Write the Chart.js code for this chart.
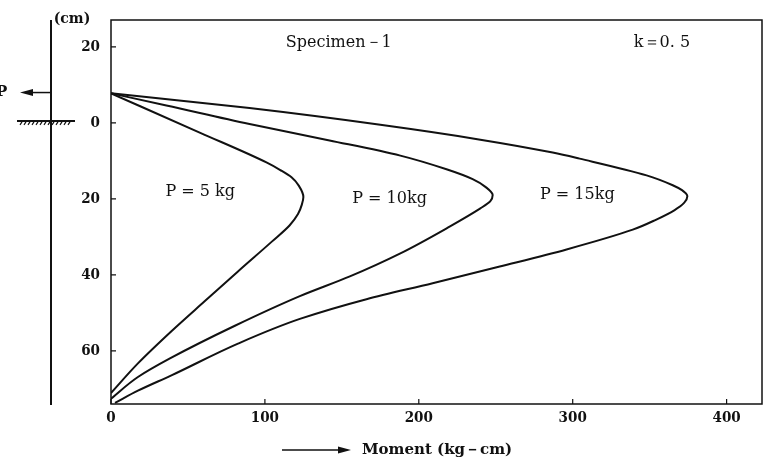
<!DOCTYPE html>
<html>
<head>
<meta charset="utf-8">
<script src="https://cdn.jsdelivr.net/npm/chart.js@4"></script>
<style>
  body { margin: 0; background: #fff; }
  #wrap { width: 780px; height: 462px; }
</style>
</head>
<body>
<div id="wrap"><canvas id="myChart" width="780" height="462"></canvas></div>
<script>
// Moment (kg-cm) vs depth (cm, negative = above ground)
const depthP5   = [-7.8, 2.6, 10.4, 12.4, 14.3, 16.5, 19.5, 21.5, 24, 27, 31.25, 39.1, 46.9, 54.7, 63.3, 71.1];
const momentP5  = [0, 58, 101, 110, 117.3, 122, 125, 124, 121.5, 116, 104.5, 82.5, 61, 39.6, 17.5, 0];

const depthP10  = [-7.8, -4.6, 0.3, 4.6, 8.6, 12.2, 14.8, 16.9, 19, 20.6, 22.5, 27.3, 34.4, 40.4, 45.6, 53.4, 62, 66.9, 72.6];
const momentP10 = [0, 36, 90, 142, 188, 218, 235, 243.5, 248, 246.5, 240, 220, 187.7, 155.2, 122.7, 80.5, 38.3, 17.5, 0];

const depthP15  = [-7.8, -3.9, 0.5, 4.4, 7.8, 9.4, 13.8, 16.4, 17.7, 19.3, 21, 23, 25.5, 28.1, 33.3, 37.8, 42.2, 46.4, 51.6, 58.1, 66.4, 70.5, 73.7];
const momentP15 = [0, 90, 175, 240, 287, 304.5, 348, 365, 371, 374.5, 372.5, 366, 354, 339, 296, 252.6, 209, 166, 122.7, 82.5, 39.6, 17.5, 2.6];

const xTicks = [0, 100, 200, 300, 400];
const yTicks = [-20, 0, 20, 40, 60];
const loadLabels = ['P = 5 kg', 'P = 10kg', 'P = 15kg'];

const serif = "'DejaVu Serif', 'Liberation Serif', serif";
const tickFont = "'DejaVu Serif Condensed', 'DejaVu Serif', serif";

function toPoints(xs, ys) {
    return xs.map((x, i) => ({ x: x, y: ys[i] }));
}

function curve(xs, ys) {
    return {
        data: toPoints(xs, ys),
        showLine: true,
        borderColor: '#111',
        borderWidth: 2,
        pointRadius: 0,
        cubicInterpolationMode: 'monotone',
        fill: false
    };
}

// frame, inward ticks, pile sketch and text labels
const decorations = {
    id: 'decorations',
    afterDraw(chart) {
        const ctx = chart.ctx;
        const area = chart.chartArea;
        const xs = chart.scales.x;
        const ys = chart.scales.y;
        ctx.save();
        ctx.strokeStyle = '#111';
        ctx.fillStyle = '#111';

        // frame
        ctx.lineWidth = 1.5;
        ctx.strokeRect(area.left, area.top, area.right - area.left, area.bottom - area.top);

        // tick marks pointing inside
        ctx.lineWidth = 1.2;
        ctx.beginPath();
        xs.ticks.forEach(t => {
            const px = xs.getPixelForValue(t.value);
            ctx.moveTo(px, area.bottom);
            ctx.lineTo(px, area.bottom - 5);
        });
        ys.ticks.forEach(t => {
            const py = ys.getPixelForValue(t.value);
            ctx.moveTo(area.left, py);
            ctx.lineTo(area.left + 5, py);
        });
        ctx.stroke();

        // pile on the left
        const pileX = 51;
        ctx.lineWidth = 2;
        ctx.beginPath();
        ctx.moveTo(pileX, area.top);
        ctx.lineTo(pileX, area.bottom + 1);
        ctx.stroke();

        // load arrow P
        const loadY = ys.getPixelForValue(-8);
        ctx.lineWidth = 1.5;
        ctx.beginPath();
        ctx.moveTo(pileX, loadY);
        ctx.lineTo(30, loadY);
        ctx.stroke();
        ctx.beginPath();
        ctx.moveTo(20, loadY);
        ctx.lineTo(33, loadY - 3.5);
        ctx.lineTo(33, loadY + 3.5);
        ctx.closePath();
        ctx.fill();
        ctx.font = 'bold 15px ' + serif;
        ctx.textAlign = 'left';
        ctx.textBaseline = 'middle';
        ctx.fillText('P', -4, loadY);

        // ground line with hatching
        const groundY = ys.getPixelForValue(0);
        ctx.lineWidth = 2;
        ctx.beginPath();
        ctx.moveTo(17, groundY - 2);
        ctx.lineTo(75, groundY - 2);
        ctx.stroke();
        ctx.lineWidth = 1.2;
        ctx.beginPath();
        for (let hx = 20; hx < 72; hx += 4) {
            ctx.moveTo(hx + 2, groundY - 1);
            ctx.lineTo(hx, groundY + 2);
        }
        ctx.stroke();

        // unit
        ctx.font = 'bold 14px ' + serif;
        ctx.textAlign = 'center';
        ctx.fillText('(cm)', 72, 19);

        // texts inside the plot
        ctx.font = '16px ' + serif;
        ctx.fillText('Specimen－1', xs.getPixelForValue(148), ys.getPixelForValue(-21.1));
        ctx.fillText('k＝0. 5', xs.getPixelForValue(358), ys.getPixelForValue(-21.1));
        ctx.fillText(loadLabels[0], xs.getPixelForValue(58), ys.getPixelForValue(18.2));
        ctx.fillText(loadLabels[1], xs.getPixelForValue(181), ys.getPixelForValue(20));
        ctx.fillText(loadLabels[2], xs.getPixelForValue(303), ys.getPixelForValue(19));

        // x axis title with arrow
        const titleY = 450;
        ctx.lineWidth = 1.5;
        ctx.beginPath();
        ctx.moveTo(282, titleY);
        ctx.lineTo(340, titleY);
        ctx.stroke();
        ctx.beginPath();
        ctx.moveTo(351, titleY);
        ctx.lineTo(338, titleY - 3.5);
        ctx.lineTo(338, titleY + 3.5);
        ctx.closePath();
        ctx.fill();
        ctx.font = 'bold 15px ' + serif;
        ctx.textAlign = 'left';
        ctx.fillText('Moment (kg－cm)', 362, titleY);

        ctx.restore();
    }
};

const ctx = document.getElementById('myChart').getContext('2d');

new Chart(ctx, {
    type: 'scatter',
    data: {
        datasets: [
            curve(momentP5, depthP5),
            curve(momentP10, depthP10),
            curve(momentP15, depthP15)
        ]
    },
    options: {
        indexAxis: 'y', // depth grows steadily along every curve
        responsive: false,
        animation: false,
        layout: { padding: { left: 0, top: 16, right: 18, bottom: 0 } },
        plugins: {
            legend: { display: false },
            tooltip: { enabled: false }
        },
        scales: {
            x: {
                type: 'linear',
                min: 0,
                max: 423,
                grid: { display: false, drawTicks: false },
                border: { display: false },
                afterBuildTicks: scale => { scale.ticks = xTicks.map(v => ({ value: v })); },
                afterFit: scale => { scale.height = 58; },
                ticks: {
                    padding: 5,
                    color: '#111',
                    font: { family: tickFont, size: 15, weight: 'bold' },
                    maxRotation: 0
                }
            },
            y: {
                type: 'linear',
                reverse: true,
                min: -27.1,
                max: 74,
                grid: { display: false, drawTicks: false },
                border: { display: false },
                afterBuildTicks: scale => { scale.ticks = yTicks.map(v => ({ value: v })); },
                afterFit: scale => { scale.width = 111; },
                ticks: {
                    padding: 11,
                    color: '#111',
                    font: { family: tickFont, size: 15, weight: 'bold' },
                    callback: v => Math.abs(v)
                }
            }
        }
    },
    plugins: [decorations]
});
</script>
</body>
</html>
